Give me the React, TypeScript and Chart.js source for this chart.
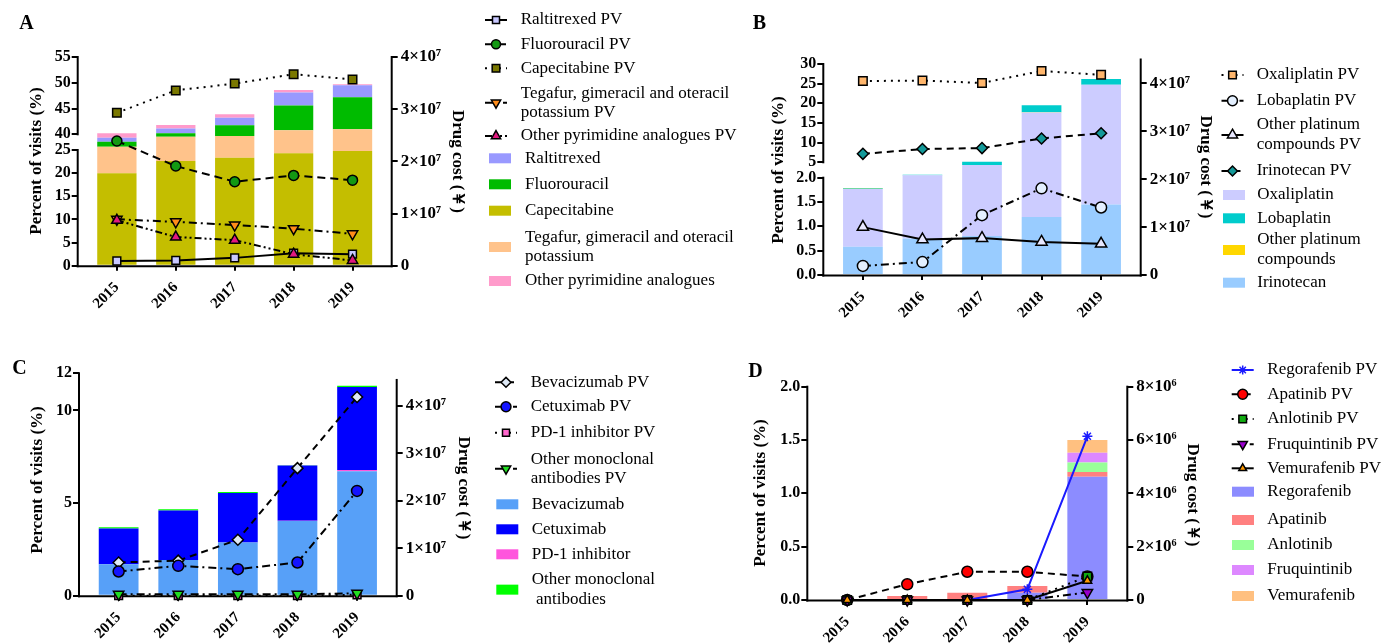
import React, { useEffect, useRef } from 'react';
import { Chart, registerables, LinearScale } from 'chart.js';
import { drawPoint } from 'chart.js/helpers';

Chart.register(...registerables);

const FONT = '"Liberation Serif", "Times New Roman", serif';
Chart.defaults.font.family = FONT;

// ---------------- DATA ----------------
const years = ['2015', '2016', '2017', '2018', '2019'];

// Panel A — percent of visits (bars)
const aRaltitrexed = [3.8, 0.95, 1.45, 2.5, 2.3];
const aFluorouracil = [4.7, 2.5, 3.35, 4.8, 6.2];
const aCapecitabine = [20.0, 22.6, 23.3, 24.3, 24.8];
const aTegafur = [8.2, 15.1, 15.1, 16.5, 16.2];
const aOtherPyr = [3.5, 0.65, 0.7, 0.5, 0.2];
// Panel A — drug cost (lines)
const aRaltitrexedPV = [0.09e7, 0.10e7, 0.15e7, 0.24e7, 0.22e7];
const aFluorouracilPV = [2.39e7, 1.91e7, 1.61e7, 1.73e7, 1.64e7];
const aCapecitabinePV = [2.93e7, 3.36e7, 3.49e7, 3.67e7, 3.57e7];
const aTegafurPV = [0.89e7, 0.84e7, 0.78e7, 0.71e7, 0.61e7];
const aOtherPyrPV = [0.87e7, 0.55e7, 0.49e7, 0.22e7, 0.10e7];
const aLeftTicks = [0, 5, 10, 15, 20, 25, 40, 45, 50, 55];
const aLeftTickLabels = ['0', '5', '10', '15', '20', '25', '40', '45', '50', '55'];
const aRightTicks = [0, 1e7, 2e7, 3e7, 4e7];
const aRightTickLabels = ['0', '1×10⁷', '2×10⁷', '3×10⁷', '4×10⁷'];

// Panel B
const bOxaliplatin = [1.19, 1.72, 3.68, 16.5, 23.25];
const bLobaplatin = [0.015, 0.1, 0.67, 1.8, 1.5];
const bOtherPlatinum = [0.005, 0.005, 0.01, 0.02, 0.02];
const bIrinotecan = [0.58, 0.75, 0.8, 1.19, 1.45];
const bOxaliplatinPV = [4.05e7, 4.06e7, 4.01e7, 4.26e7, 4.18e7];
const bLobaplatinPV = [0.19e7, 0.27e7, 1.25e7, 1.81e7, 1.41e7];
const bOtherPlatinumPV = [1.0e7, 0.74e7, 0.77e7, 0.69e7, 0.65e7];
const bIrinotecanPV = [2.53e7, 2.63e7, 2.65e7, 2.85e7, 2.96e7];
const bLeftTicks = [0, 0.5, 1, 1.5, 2, 5, 10, 15, 20, 25, 30];
const bLeftTickLabels = ['0.0', '0.5', '1.0', '1.5', '2.0', '5', '10', '15', '20', '25', '30'];
const bRightTicks = [0, 1e7, 2e7, 3e7, 4e7];
const bRightTickLabels = ['0', '1×10⁷', '2×10⁷', '3×10⁷', '4×10⁷'];

// Panel C
const cBevacizumab = [1.7, 1.93, 2.87, 4.03, 6.71];
const cCetuximab = [1.93, 2.67, 2.67, 2.98, 4.48];
const cPD1 = [0, 0, 0, 0.01, 0.07];
const cOtherMab = [0.07, 0.06, 0.06, 0.02, 0.07];
const cBevacizumabPV = [0.70e7, 0.74e7, 1.18e7, 2.69e7, 4.19e7];
const cCetuximabPV = [0.51e7, 0.63e7, 0.56e7, 0.70e7, 2.21e7];
const cPD1PV = [0, 0, 0, 0, 0.02e7];
const cOtherMabPV = [0.03e7, 0.03e7, 0.03e7, 0.03e7, 0.05e7];
const cLeftTicks = [0, 5, 10, 12];
const cLeftTickLabels = ['0', '5', '10', '12'];
const cRightTicks = [0, 1e7, 2e7, 3e7, 4e7];
const cRightTickLabels = ['0', '1×10⁷', '2×10⁷', '3×10⁷', '4×10⁷'];

// Panel D
const dRegorafenib = [0, 0, 0, 0.068, 1.156];
const dApatinib = [0, 0.0375, 0.068, 0.063, 0.044];
const dAnlotinib = [0, 0, 0, 0, 0.09];
const dFruquintinib = [0, 0, 0, 0, 0.09];
const dVemurafenib = [0, 0, 0, 0, 0.12];
const dRegorafenibPV = [0, 0, 0, 0.4e6, 6.14e6];
const dApatinibPV = [0, 0.59e6, 1.06e6, 1.06e6, 0.88e6];
const dAnlotinibPV = [0, 0, 0, 0, 0.88e6];
const dFruquintinibPV = [0, 0, 0, 0, 0.28e6];
const dVemurafenibPV = [0, 0, 0, 0, 0.72e6];
const dLeftTicks = [0, 0.5, 1, 1.5, 2];
const dLeftTickLabels = ['0.0', '0.5', '1.0', '1.5', '2.0'];
const dRightTicks = [0, 2e6, 4e6, 6e6, 8e6];
const dRightTickLabels = ['0', '2×10⁶', '4×10⁶', '6×10⁶', '8×10⁶'];

// ---------------- BROKEN AXIS SCALE ----------------
type Seg = { lo: number; hi: number; f0: number; f1: number };
const BREAKS: Record<string, Seg[]> = {
  A: [{ lo: 0, hi: 25, f0: 0, f1: 0.5544 }, { lo: 40, hi: 55, f0: 0.6296, f1: 1 }],
  B: [{ lo: 0, hi: 2, f0: 0, f1: 0.4515 }, { lo: 5, hi: 30, f0: 0.523, f1: 0.979 }],
};

class BrokenLinear extends (LinearScale as any) {
  static id = 'brokenLinear';
  static defaults = {};
  segs(): Seg[] {
    return BREAKS[(this as any).options.breakKey];
  }
  frac(v: number) {
    const s = this.segs();
    for (let i = 0; i < s.length; i++) {
      const g = s[i];
      if (v <= g.hi || i === s.length - 1) {
        if (v >= g.lo || i === 0) return g.f0 + ((v - g.lo) / (g.hi - g.lo)) * (g.f1 - g.f0);
        const p = s[i - 1];
        return p.f1 + ((v - p.hi) / (g.lo - p.hi)) * (g.f0 - p.f1);
      }
    }
    return 0;
  }
  getPixelForValue(value: number) {
    if (value === null || value === undefined || isNaN(value)) return NaN;
    const me: any = this;
    return me.bottom - this.frac(value) * (me.bottom - me.top);
  }
  getValueForPixel(px: number) {
    const me: any = this;
    const f = (me.bottom - px) / (me.bottom - me.top);
    const s = this.segs();
    for (let i = 0; i < s.length; i++) {
      const g = s[i];
      if (f <= g.f1 || i === s.length - 1) {
        if (f >= g.f0 || i === 0) return g.lo + ((f - g.f0) / (g.f1 - g.f0)) * (g.hi - g.lo);
        const p = s[i - 1];
        return p.hi + ((f - p.f1) / (g.f0 - p.f1)) * (g.lo - p.hi);
      }
    }
    return 0;
  }
}
Chart.register(BrokenLinear as any);

// ---------------- PANEL SPECS ----------------
type LineSpec = { label: string; data: number[]; fill: string; style: string; rot?: number; r: number; dash: number[]; color?: string; pb?: string };
type BarSpec = { label: string; data: number[]; color: string; rank: number };
type PanelSpec = {
  key: string; letter: string; x: number; y: number; w: number; h: number;
  area: { left: number; right: number; top: number; bottom: number };
  broken: boolean; yMax: number; yTicks: number[]; yTickLabels: string[];
  y2Max: number; y2Ticks: number[]; y2TickLabels: string[];
  leftLine: number[][]; rightLineTop: number;
  letterPos: number[]; yTitlePos: number[]; y2TitlePos: number[];
  lines: LineSpec[]; bars: BarSpec[];
  legend: { mx: number; tx: number; lineYs: number[][]; bx: number; btx: number; boxYs: number[][] };
};

const DOT = [2, 5];
const DASH = [7, 5];
const DASHDOT = [8, 4, 2, 4];
const DASHDOTDOT = [7, 3, 2, 3, 2, 3];

const panels: PanelSpec[] = [
  {
    key: 'A', letter: 'A', x: 0, y: 0, w: 745, h: 322,
    area: { left: 77.7, right: 391.7, top: 57, bottom: 265.7 },
    broken: true, yMax: 55, yTicks: aLeftTicks, yTickLabels: aLeftTickLabels,
    y2Max: 4e7, y2Ticks: aRightTicks, y2TickLabels: aRightTickLabels,
    leftLine: [[0, 25], [40, 55]], rightLineTop: 4e7,
    letterPos: [26.5, 24], yTitlePos: [36.7, 161], y2TitlePos: [457.5, 161.5],
    lines: [
      { label: 'Raltitrexed PV', data: aRaltitrexedPV, fill: '#C8C8FF', style: 'rect', r: 5.5, dash: [] },
      { label: 'Fluorouracil PV', data: aFluorouracilPV, fill: '#139913', style: 'circle', r: 5, dash: [8, 5] },
      { label: 'Capecitabine PV', data: aCapecitabinePV, fill: '#7A7800', style: 'rect', r: 6, dash: DOT },
      { label: 'Tegafur, gimeracil and oteracil\npotassium PV', data: aTegafurPV, fill: '#FF8C1A', style: 'triangle', rot: 180, r: 6, dash: DASHDOT },
      { label: 'Other pyrimidine analogues PV', data: aOtherPyrPV, fill: '#E0197F', style: 'triangle', r: 6, dash: DASHDOTDOT },
    ],
    bars: [
      { label: 'Raltitrexed', data: aRaltitrexed, color: '#9999FF', rank: 3 },
      { label: 'Fluorouracil', data: aFluorouracil, color: '#00BB00', rank: 2 },
      { label: 'Capecitabine', data: aCapecitabine, color: '#C4BE00', rank: 0 },
      { label: 'Tegafur, gimeracil and oteracil\npotassium', data: aTegafur, color: '#FFC38B', rank: 1 },
      { label: 'Other pyrimidine analogues', data: aOtherPyr, color: '#FF9BCB', rank: 4 },
    ],
    legend: {
      mx: 496, tx: 520.7, lineYs: [[20], [44.3], [68.3], [93.3, 112.3], [136]],
      bx: 500, btx: 525, boxYs: [[158.3], [184.3], [210.7], [237.3, 256.7], [281]],
    },
  },
  {
    key: 'B', letter: 'B', x: 745, y: 0, w: 637, h: 322,
    area: { left: 78.3, right: 395.7, top: 59.5, bottom: 275 },
    broken: true, yMax: 30, yTicks: bLeftTicks, yTickLabels: bLeftTickLabels,
    y2Max: 4.5e7, y2Ticks: bRightTicks, y2TickLabels: bRightTickLabels,
    leftLine: [[0, 2], [5, 30]], rightLineTop: 4.5e7,
    letterPos: [14.5, 24], yTitlePos: [34, 170], y2TitlePos: [460, 167],
    lines: [
      { label: 'Oxaliplatin PV', data: bOxaliplatinPV, fill: '#FFB66C', style: 'rect', r: 6, dash: DOT },
      { label: 'Lobaplatin PV', data: bLobaplatinPV, fill: '#E4F0FF', style: 'circle', r: 5.5, dash: DASHDOT },
      { label: 'Other platinum\ncompounds PV', data: bOtherPlatinumPV, fill: '#E8E8FF', style: 'triangle', r: 6.5, dash: [] },
      { label: 'Irinotecan PV', data: bIrinotecanPV, fill: '#139999', style: 'rectRot', r: 5.5, dash: DASH },
    ],
    bars: [
      { label: 'Oxaliplatin', data: bOxaliplatin, color: '#CCCCFF', rank: 1 },
      { label: 'Lobaplatin', data: bLobaplatin, color: '#00CCCC', rank: 3 },
      { label: 'Other platinum\ncompounds', data: bOtherPlatinum, color: '#FFD700', rank: 2 },
      { label: 'Irinotecan', data: bIrinotecan, color: '#99CCFF', rank: 0 },
    ],
    legend: {
      mx: 487.5, tx: 511.7, lineYs: [[75], [100.7], [125, 145], [171]],
      bx: 489, btx: 512.3, boxYs: [[195], [218.3], [240, 260], [282.7]],
    },
  },
  {
    key: 'C', letter: 'C', x: 0, y: 322, w: 745, h: 322,
    area: { left: 79, right: 396.7, top: 51.3, bottom: 273.7 },
    broken: false, yMax: 12, yTicks: cLeftTicks, yTickLabels: cLeftTickLabels,
    y2Max: 4.69e7, y2Ticks: cRightTicks, y2TickLabels: cRightTickLabels,
    leftLine: [[0, 12]], rightLineTop: 4.55e7,
    letterPos: [19.5, 46.5], yTitlePos: [37.5, 158], y2TitlePos: [463, 166],
    lines: [
      { label: 'Bevacizumab PV', data: cBevacizumabPV, fill: '#DDE8F5', style: 'rectRot', r: 5.5, dash: DASH },
      { label: 'Cetuximab PV', data: cCetuximabPV, fill: '#1414FF', style: 'circle', r: 5.5, dash: DASHDOT },
      { label: 'PD-1 inhibitor PV', data: cPD1PV, fill: '#FF66CC', style: 'rect', r: 5.5, dash: DOT },
      { label: 'Other monoclonal\nantibodies PV', data: cOtherMabPV, fill: '#22DD22', style: 'triangle', rot: 180, r: 6, dash: DASHDOT },
    ],
    bars: [
      { label: 'Bevacizumab', data: cBevacizumab, color: '#57A0F8', rank: 0 },
      { label: 'Cetuximab', data: cCetuximab, color: '#0000FF', rank: 2 },
      { label: 'PD-1 inhibitor', data: cPD1, color: '#FF55DD', rank: 1 },
      { label: 'Other monoclonal\n antibodies', data: cOtherMab, color: '#00FF00', rank: 3 },
    ],
    legend: {
      mx: 506, tx: 530.7, lineYs: [[60.3], [84.7], [110.7], [137.3, 156.3]],
      bx: 507.3, btx: 531.7, boxYs: [[182.3], [207.3], [232.3], [258, 277.3]],
    },
  },
  {
    key: 'D', letter: 'D', x: 745, y: 322, w: 637, h: 322,
    area: { left: 62.3, right: 382.3, top: 64.7, bottom: 278 },
    broken: false, yMax: 2, yTicks: dLeftTicks, yTickLabels: dLeftTickLabels,
    y2Max: 8e6, y2Ticks: dRightTicks, y2TickLabels: dRightTickLabels,
    leftLine: [[0, 2]], rightLineTop: 8e6,
    letterPos: [10.5, 49.5], yTitlePos: [15.5, 171], y2TitlePos: [447.5, 173],
    lines: [
      { label: 'Regorafenib PV', data: dRegorafenibPV, fill: '#1A1AFF', style: 'star', r: 5, dash: [], color: '#1A1AFF', pb: '#1A1AFF' },
      { label: 'Apatinib PV', data: dApatinibPV, fill: '#FF0000', style: 'circle', r: 5.5, dash: DASH },
      { label: 'Anlotinib PV', data: dAnlotinibPV, fill: '#11AA11', style: 'rect', r: 6, dash: DOT },
      { label: 'Fruquintinib PV', data: dFruquintinibPV, fill: '#9900CC', style: 'triangle', rot: 180, r: 6, dash: DASHDOT },
      { label: 'Vemurafenib PV', data: dVemurafenibPV, fill: '#FF9900', style: 'triangle', r: 5, dash: [] },
    ],
    bars: [
      { label: 'Regorafenib', data: dRegorafenib, color: '#8C8CFF', rank: 0 },
      { label: 'Apatinib', data: dApatinib, color: '#FF8080', rank: 1 },
      { label: 'Anlotinib', data: dAnlotinib, color: '#99FF99', rank: 2 },
      { label: 'Fruquintinib', data: dFruquintinib, color: '#DD88FF', rank: 3 },
      { label: 'Vemurafenib', data: dVemurafenib, color: '#FFC080', rank: 4 },
    ],
    legend: {
      mx: 497.7, tx: 522.3, lineYs: [[48], [72.3], [97], [122.3], [146.3]],
      bx: 498, btx: 522.3, boxYs: [[169.7], [198], [223], [248], [274]],
    },
  },
];

const Y_TITLE = 'Percent of visits (%)';
const Y2_TITLE = 'Drug cost (￥)';

// ---------------- DECOR PLUGIN ----------------
function decor(p: PanelSpec) {
  return {
    id: 'decor' + p.key,
    beforeDatasetsDraw(chart: any) {
      const ctx = chart.ctx;
      const ca = chart.chartArea;
      const y = chart.scales.y;
      const y2 = chart.scales.y2;
      ctx.save();
      ctx.strokeStyle = '#000';
      ctx.lineWidth = 2;
      ctx.lineCap = 'square';
      ctx.beginPath();
      ctx.moveTo(ca.left, ca.bottom + 0.5);
      ctx.lineTo(ca.right, ca.bottom + 0.5);
      ctx.stroke();
      for (const [lo, hi] of p.leftLine) {
        ctx.beginPath();
        ctx.moveTo(ca.left, y.getPixelForValue(lo) + (lo === 0 ? 0.5 : 0));
        ctx.lineTo(ca.left, y.getPixelForValue(hi));
        ctx.stroke();
      }
      ctx.beginPath();
      ctx.moveTo(ca.right, y2.getPixelForValue(0) + 0.5);
      ctx.lineTo(ca.right, y2.getPixelForValue(p.rightLineTop));
      ctx.stroke();
      ctx.restore();
    },
    afterDraw(chart: any) {
      const ctx = chart.ctx;
      ctx.save();
      ctx.fillStyle = '#000';
      ctx.textAlign = 'center';
      ctx.textBaseline = 'middle';
      ctx.font = `bold 20px ${FONT}`;
      ctx.fillText(p.letter, p.letterPos[0], p.letterPos[1]);
      ctx.font = `bold 17px ${FONT}`;
      ctx.save();
      ctx.translate(p.yTitlePos[0], p.yTitlePos[1]);
      ctx.rotate(-Math.PI / 2);
      ctx.fillText(Y_TITLE, 0, 0);
      ctx.restore();
      ctx.save();
      ctx.translate(p.y2TitlePos[0], p.y2TitlePos[1]);
      ctx.rotate(Math.PI / 2);
      ctx.fillText(Y2_TITLE, 0, 0);
      ctx.restore();

      const L = p.legend;
      ctx.font = `17px ${FONT}`;
      ctx.textAlign = 'left';
      p.lines.forEach((ls, i) => {
        const ys = L.lineYs[i];
        const cy = (ys[0] + ys[ys.length - 1]) / 2;
        ctx.strokeStyle = ls.color || '#000';
        ctx.lineWidth = 2;
        ctx.setLineDash(ls.dash);
        ctx.beginPath();
        ctx.moveTo(L.mx - 11, cy);
        ctx.lineTo(L.mx + 11, cy);
        ctx.stroke();
        ctx.setLineDash([]);
        ctx.fillStyle = ls.fill;
        ctx.strokeStyle = ls.pb || '#000';
        ctx.lineWidth = 1.5;
        drawPoint(ctx, { pointStyle: ls.style as any, rotation: ls.rot || 0, radius: ls.r * 0.9, borderWidth: 1.5 } as any, L.mx, cy);
        ctx.fillStyle = '#000';
        ls.label.split('\n').forEach((t, k) => ctx.fillText(t, L.tx, ys[k]));
      });
      p.bars.forEach((b, i) => {
        const ys = L.boxYs[i];
        const cy = (ys[0] + ys[ys.length - 1]) / 2;
        ctx.fillStyle = b.color;
        ctx.fillRect(L.bx - 11, cy - 5, 22, 10);
        ctx.fillStyle = '#000';
        b.label.split('\n').forEach((t, k) => ctx.fillText(t, L.btx, ys[k]));
      });
      ctx.restore();
    },
  };
}

// ---------------- CONFIG ----------------
const tickFont = { family: FONT, size: 16, weight: 'bold' as const };
const xTickFont = { family: FONT, size: 15, weight: 'bold' as const };
const y2TickFont = { family: FONT, size: 17, weight: 'bold' as const };
const grid = (len: number) => ({
  display: true, drawOnChartArea: false, drawTicks: true, offset: false,
  tickLength: len, tickWidth: 2, tickColor: '#000', color: '#000', lineWidth: 2,
});

function buildConfig(p: PanelSpec): any {
  const datasets: any[] = [];
  const sortedBars = [...p.bars].sort((a, b) => a.rank - b.rank);
  sortedBars.forEach((b, i) => {
    datasets.push({
      type: 'bar', label: b.label.replace('\n', ' '), data: b.data, backgroundColor: b.color,
      borderWidth: 0, yAxisID: 'y', xAxisID: 'x', stack: 'visits', order: 100 + i,
      barPercentage: 0.667, categoryPercentage: 1, clip: false,
    });
  });
  p.lines.forEach((l, i) => {
    datasets.push({
      type: 'line', label: l.label.replace('\n', ' '), data: l.data, yAxisID: 'y2', xAxisID: 'x',
      borderColor: l.color || '#000', borderWidth: 2, borderDash: l.dash,
      pointStyle: l.style, pointRotation: l.rot || 0, pointRadius: l.r,
      pointBackgroundColor: l.fill, pointBorderColor: l.pb || '#000', pointBorderWidth: 1.5,
      fill: false, tension: 0, clip: false, order: 50 - i,
    });
  });
  return {
    type: 'bar',
    data: { labels: years.map((_, i) => i), datasets },
    options: {
      responsive: false, animation: false, events: [],
      layout: { padding: { top: p.area.top, left: 0, right: 0, bottom: 0 } },
      plugins: { legend: { display: false }, tooltip: { enabled: false }, title: { display: false } },
      scales: {
        x: {
          type: 'linear', position: 'bottom', min: -0.665, max: 4.665, bounds: 'data', offset: false,
          afterBuildTicks: (s: any) => { s.ticks = years.map((_, i) => ({ value: i })); },
          afterFit: (s: any) => { s.height = p.h - p.area.bottom; },
          ticks: {
            callback: (v: any) => years[v], minRotation: 45, maxRotation: 45, autoSkip: false,
            color: '#000', font: xTickFont, padding: 8,
          },
          grid: grid(5), border: { display: false },
        },
        y: {
          type: p.broken ? 'brokenLinear' : 'linear', breakKey: p.key, position: 'left',
          min: 0, max: p.yMax, bounds: 'data',
          afterBuildTicks: (s: any) => { s.ticks = p.yTicks.map((v) => ({ value: v })); },
          afterFit: (s: any) => { s.width = p.area.left; },
          ticks: {
            callback: (v: any) => p.yTickLabels[p.yTicks.indexOf(v)], autoSkip: false,
            color: '#000', font: tickFont, padding: 1,
          },
          grid: grid(6), border: { display: false },
        },
        y2: {
          type: 'linear', position: 'right', min: 0, max: p.y2Max, bounds: 'data',
          afterBuildTicks: (s: any) => { s.ticks = p.y2Ticks.map((v) => ({ value: v })); },
          afterFit: (s: any) => { s.width = p.w - p.area.right; },
          ticks: {
            callback: (v: any) => p.y2TickLabels[p.y2Ticks.indexOf(v)], autoSkip: false,
            color: '#000', font: y2TickFont, padding: 3,
          },
          grid: grid(6), border: { display: false },
        },
      },
    },
    plugins: [decor(p)],
  };
}

function Panel({ spec }: { spec: PanelSpec }) {
  const ref = useRef<HTMLCanvasElement>(null);
  useEffect(() => {
    const chart = new Chart(ref.current as HTMLCanvasElement, buildConfig(spec));
    return () => chart.destroy();
  }, [spec]);
  return (
    <canvas
      ref={ref}
      width={spec.w}
      height={spec.h}
      style={{ position: 'absolute', left: spec.x, top: spec.y, width: spec.w, height: spec.h }}
    />
  );
}

export default function App() {
  return (
    <div style={{ position: 'absolute', left: 0, top: 0, width: 1382, height: 644, background: '#fff' }}>
      {panels.map((p) => (
        <Panel key={p.key} spec={p} />
      ))}
    </div>
  );
}
